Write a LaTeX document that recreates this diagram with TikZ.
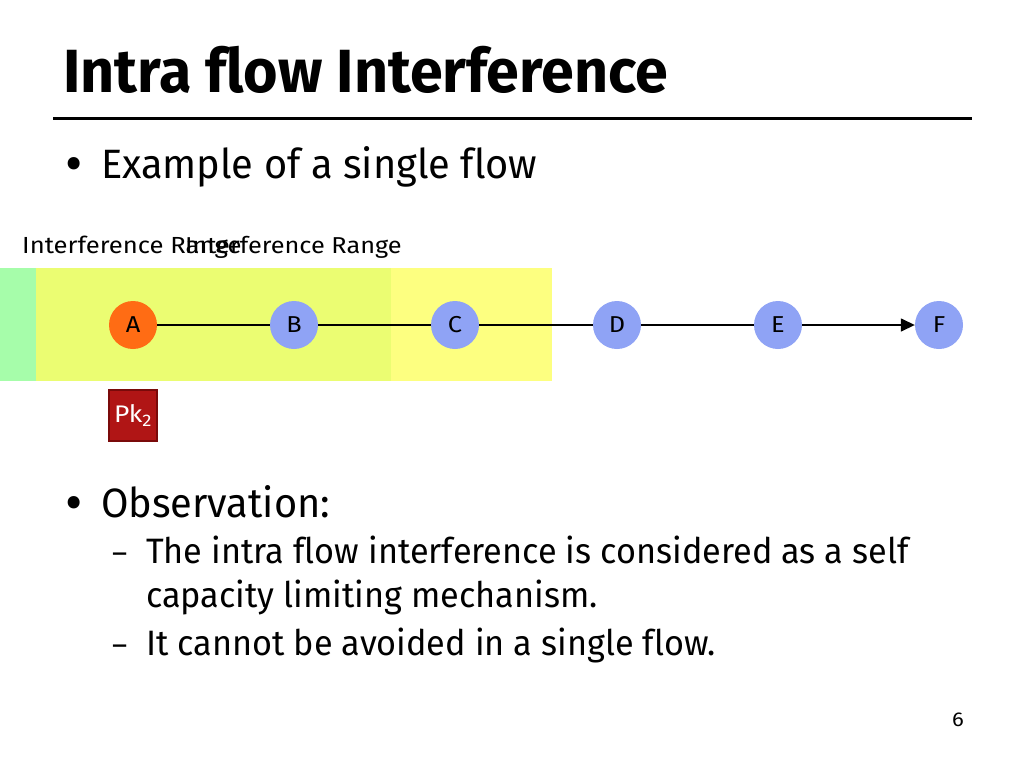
\documentclass[tikz,border=0pt]{standalone}
\usepackage{fontspec}
\setmainfont{Fira Sans}[FakeStretch=0.97, Ligatures=NoCommon]
\newfontfamily\widefont{Fira Sans}[FakeStretch=1.1, Ligatures=NoCommon]
\usetikzlibrary{arrows.meta}
\definecolor{nodeblue}{HTML}{8FA3F5}
\definecolor{nodeorange}{HTML}{FF6C14}
\definecolor{pkred}{HTML}{B01515}
\definecolor{pkborder}{HTML}{7A0A0A}
\definecolor{rgreen}{HTML}{A6FDAA}
\definecolor{roverlap}{HTML}{EBFD72}
\definecolor{ryellow}{HTML}{FDFF80}
\tikzset{
  txt/.style={anchor=base west, inner sep=0pt, text=black},
  station/.style={circle, fill=nodeblue, minimum size=48pt, inner sep=0pt, font=\widefont\fontsize{23}{26}\selectfont},
  link/.style={line width=1.5pt, draw=black},
  subtext/.style={txt, font=\fontsize{35.3}{42}\selectfont},
}
\begin{document}
\begin{tikzpicture}[x=1pt,y=-1pt]
\useasboundingbox (0,0) rectangle (1024,768);
\fill[white] (0,0) rectangle (1024,768);
% title
\node[txt, font=\fontsize{61}{70}\bfseries\selectfont] (title) at (63,92) {Intra flow Interference};
\draw[line width=3pt] (53,118) -- (972,118);
% bullets
\node[txt, font=\fontsize{55}{70}\selectfont] (b1) at (65,182) {\textbullet};
\node[txt, font=\fontsize{41}{48}\selectfont] (t1) at (101,178) {Example of a single flow};
% ranges
\fill[rgreen] (0,268) rectangle (36,381);
\fill[roverlap] (36,268) rectangle (391,381);
\fill[ryellow] (391,268) rectangle (552,381);
\node[txt, font=\widefont\fontsize{23.3}{26}\selectfont] (ir1) at (22,253) {Interference Range};
\node[txt, font=\widefont\fontsize{23}{26}\selectfont] (ir2) at (185,253) {Interference Range};
% stations
\node[station, fill=nodeorange] (A) at (133,325) {A};
\node[station] (B) at (294,325) {B};
\node[station] (C) at (455,325) {C};
\node[station] (D) at (617,325) {D};
\node[station] (E) at (778,325) {E};
\node[station] (F) at (939,325) {F};
\draw[link] (A) -- (B);
\draw[link] (B) -- (C);
\draw[link] (C) -- (D);
\draw[link] (D) -- (E);
\draw[link, -{Triangle[length=14pt,width=13pt]}] (E) -- (F);
% packet
\node[draw=pkborder, line width=1.5pt, fill=pkred, minimum width=48pt, minimum height=51pt, inner sep=0pt, text=white, font=\widefont\fontsize{24}{28}\selectfont] (pk) at (133,415.5) {Pk\textsubscript{2}};
% observation
\node[txt, font=\fontsize{55}{70}\selectfont] (b2) at (65,521) {\textbullet};
\node[txt, font=\fontsize{41}{48}\selectfont] (t2) at (101,517) {Observation:};
\node[txt, font=\fontsize{30}{42}\selectfont] (d1) at (112,563) {–};
\node[subtext] (t3) at (146,563) {The intra flow interference is considered as a self};
\node[subtext] (t4) at (146,607) {capacity limiting mechanism.};
\node[txt, font=\fontsize{30}{42}\selectfont] (d2) at (112,655) {–};
\node[subtext] (t5) at (146,655) {It cannot be avoided in a single flow.};
\node[txt, font=\widefont\fontsize{20}{24}\selectfont] (pg) at (952,726) {6};
\end{tikzpicture}
\end{document}
